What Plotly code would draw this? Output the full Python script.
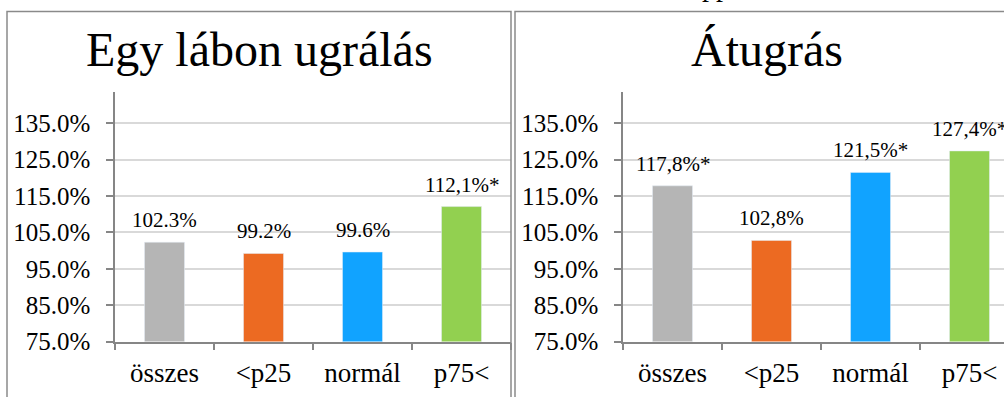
import plotly.graph_objects as go

W, H = 1004, 397

categories = ["összes", "<p25", "normál", "p75<"]
left_values = [102.3, 99.2, 99.6, 112.1]
left_labels = ["102.3%", "99.2%", "99.6%", "112,1%*"]
right_values = [117.8, 102.8, 121.5, 127.4]
right_labels = ["117,8%*", "102,8%", "121,5%*", "127,4%*"]
bar_colors = ["#B5B5B5", "#EC6A22", "#11A3FF", "#92D050"]
titles = ["Egy lábon ugrálás", "Átugrás"]
y_ticks = [75, 85, 95, 105, 115, 125, 135]

FONT = "Liberation Serif, Times New Roman, serif"

def px_x(p):
    return p / W

def px_y(p):
    return 1 - p / H

fig = go.Figure()
fig.add_trace(go.Bar(x=categories, y=left_values, marker_color=bar_colors,
                     xaxis="x", yaxis="y", showlegend=False, hoverinfo="skip"))
fig.add_trace(go.Bar(x=categories, y=right_values, marker_color=bar_colors,
                     xaxis="x2", yaxis="y2", showlegend=False, hoverinfo="skip"))

cat_w = 99.0
yb, yt = 354, 95
y_range = [75, 75 + (yb - yt) / 3.77]

def xaxis_cfg(x0, x1):
    n = (x1 - x0) / cat_w
    return dict(domain=[px_x(x0), px_x(x1)], range=[-0.5, -0.5 + n],
                type="category", showline=True, linecolor="#868686", linewidth=1.5,
                ticks="outside", ticklen=7, tickcolor="#868686", tickwidth=1.5,
                tickson="boundaries", showgrid=False, zeroline=False,
                ticklabelstandoff=6,
                tickfont=dict(family=FONT, size=27, color="#000000"),
                fixedrange=True)

def yaxis_cfg(anchor):
    return dict(domain=[px_y(yb), px_y(yt)], range=y_range, anchor=anchor,
                tickvals=y_ticks, ticktext=[f"{v:.1f}%" for v in y_ticks],
                showline=True, linecolor="#868686", linewidth=1.5,
                ticks="outside", ticklen=7, tickcolor="#868686", tickwidth=1.5,
                showgrid=True, gridcolor="#D9D9D9", gridwidth=1.5,
                zeroline=False, ticklabelstandoff=11,
                tickfont=dict(family=FONT, size=25, color="#000000"),
                fixedrange=True)

x_left = xaxis_cfg(115, 511)
x_left["anchor"] = "y"
x_right = xaxis_cfg(623, 1004)
x_right["anchor"] = "y2"

annotations = []
for ax, vals, labs in [("", left_values, left_labels), ("2", right_values, right_labels)]:
    for c, v, t in zip(categories, vals, labs):
        annotations.append(dict(x=c, y=v, xref="x" + ax, yref="y" + ax, text=t,
                                showarrow=False, yanchor="bottom", yshift=8,
                                font=dict(family=FONT, size=21, color="#000000")))

for cx, t in zip([259, 767], titles):
    annotations.append(dict(x=px_x(cx), y=px_y(51), xref="paper", yref="paper", text=t,
                            showarrow=False, xanchor="center", yanchor="middle",
                            font=dict(family=FONT, size=48, color="#000000")))

annotations.append(dict(x=px_x(716), y=px_y(4), xref="paper", yref="paper", text="pp",
                        showarrow=False, xanchor="center", yanchor="bottom",
                        font=dict(family=FONT, size=28, color="#000000")))

shapes = []
for x0, x1 in [(7, 511), (515, 1019)]:
    shapes.append(dict(type="rect", xref="paper", yref="paper",
                       x0=px_x(x0), x1=px_x(x1), y0=px_y(420), y1=px_y(12),
                       line=dict(color="#8A8A8A", width=1.5), fillcolor="rgba(0,0,0,0)",
                       layer="above"))

fig.update_layout(
    width=W, height=H, margin=dict(l=0, r=0, t=0, b=0),
    paper_bgcolor="white", plot_bgcolor="white",
    xaxis=x_left, yaxis=yaxis_cfg("x"),
    xaxis2=x_right, yaxis2=yaxis_cfg("x2"),
    bargap=0.596,
    annotations=annotations, shapes=shapes,
)

fig.write_html("out.html", config={"displayModeBar": False})
